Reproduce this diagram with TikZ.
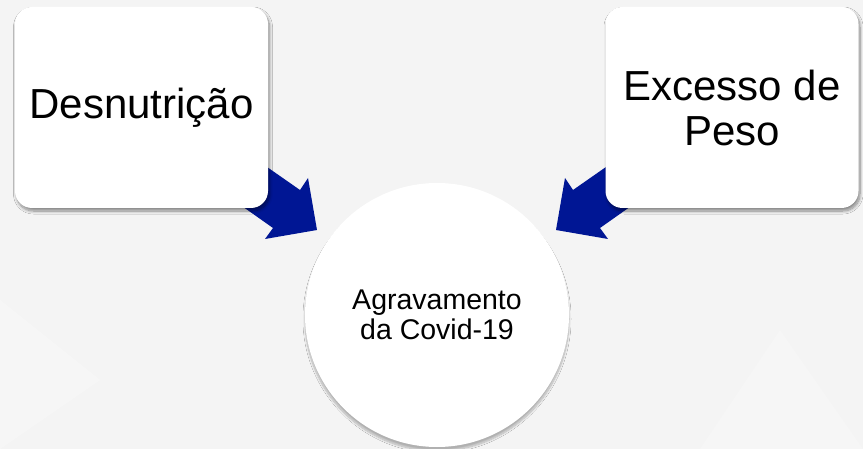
\documentclass[tikz,border=0pt]{standalone}
\usepackage{fontspec}
\setmainfont{Liberation Sans}
\usetikzlibrary{shadows.blur}
\definecolor{bgc}{HTML}{F4F4F4}
\definecolor{arrblue}{RGB}{0,22,148}
\tikzset{
  box/.style={fill=white, rounded corners=17pt, minimum width=253pt, minimum height=201pt,
    inner sep=0pt, align=center, font=\fontsize{42}{45}\selectfont,
    blur shadow={shadow blur steps=10, shadow xshift=1.5pt, shadow yshift=-3pt, shadow opacity=45, shadow blur radius=3pt}},
  centre/.style={circle, fill=white, minimum size=264pt, inner sep=0pt, align=center,
    font=\fontsize{28.5}{30}\selectfont,
    blur shadow={shadow blur steps=10, shadow xshift=0pt, shadow yshift=-4pt, shadow opacity=28, shadow blur radius=2pt}},
  blockarrow/.style={fill=arrblue, draw=none}
}
\begin{document}
\begin{tikzpicture}[x=1pt, y=-1pt]
\fill[bgc] (0,0) rectangle (863,449);
\useasboundingbox (0,0) rectangle (863,449);
% faint background pattern
\fill[white, opacity=0.25] (0,300) -- (100,380) -- (0,449) -- cycle;
\fill[white, opacity=0.2] (700,449) -- (780,330) -- (863,449) -- cycle;
% centre circle
\node[centre] (agr) at (437,315) {Agravamento\\da Covid-19};
% block arrows
\coordinate (la1) at (214,130); \coordinate (la2) at (300,190); \coordinate (la3) at (308,178);
\coordinate (la4) at (317,230); \coordinate (la5) at (265,239); \coordinate (la6) at (273,228);
\coordinate (la7) at (188,168);
\fill[blockarrow] (la1) -- (la2) -- (la3) -- (la4) -- (la5) -- (la6) -- (la7) -- cycle;
\coordinate (ra1) at (659,130); \coordinate (ra2) at (573,190); \coordinate (ra3) at (565,178);
\coordinate (ra4) at (556,230); \coordinate (ra5) at (608,239); \coordinate (ra6) at (600,228);
\coordinate (ra7) at (685,168);
\fill[blockarrow] (ra1) -- (ra2) -- (ra3) -- (ra4) -- (ra5) -- (ra6) -- (ra7) -- cycle;
% boxes
\node[box] (desn) at (141.5,107.5) {Desnutrição};
\node[box] (exc) at (732,107.5) {Excesso de\\Peso};
\end{tikzpicture}
\end{document}
